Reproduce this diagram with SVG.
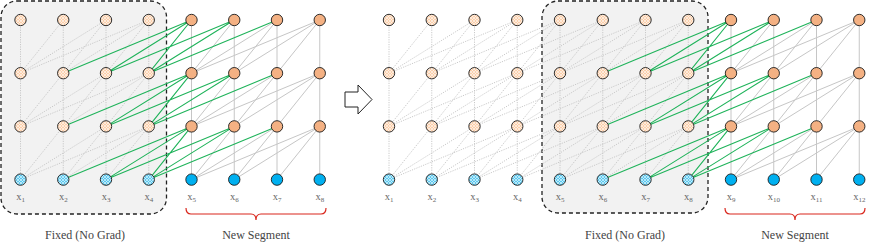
<svg xmlns="http://www.w3.org/2000/svg" xmlns:xlink="http://www.w3.org/1999/xlink" width="872" height="247" viewBox="0 0 872 247">
<style>
.box{fill:#f2f2f2;stroke:#222;stroke-width:1.3;stroke-dasharray:4 3}
.dot{fill:none;stroke:#c4c4c4;stroke-width:0.9;stroke-dasharray:1.2 1.2}
.sol{fill:none;stroke:#c6c6c6;stroke-width:1}
.grn{fill:none;stroke:#1fb35a;stroke-width:1.1}
.fh{fill:url(#hp);stroke:#1a1a1a;stroke-width:0.9}
.fi{fill:url(#ip);stroke:#1a1a1a;stroke-width:0.9}
.nh{fill:#f4b183;stroke:#1a1a1a;stroke-width:0.9}
.ni{fill:#00b0f0;stroke:#1a1a1a;stroke-width:0.9}
.lab{font-family:"Liberation Serif","DejaVu Serif",serif;font-size:10.5px;fill:#666;text-anchor:middle}
.sub{font-size:7px}
.cap{font-family:"Liberation Serif","DejaVu Serif",serif;font-size:12px;fill:#444;text-anchor:middle}
.brace{fill:none;stroke:#d9261c;stroke-width:1.2}
</style>
<defs>
<pattern id="hp" width="3" height="3" patternUnits="userSpaceOnUse"><rect width="3" height="3" fill="#fbcfab"/><path d="M0 0L3 3M3 0L0 3" stroke="#fff" stroke-width="0.7" opacity="0.8"/></pattern>
<pattern id="ip" width="3" height="3" patternUnits="userSpaceOnUse"><rect width="3" height="3" fill="#5ac8ef"/><path d="M0 0L3 3M3 0L0 3" stroke="#fff" stroke-width="0.7" opacity="0.8"/></pattern>
<path id="tri" d="M20.5 20V73.2M63.25 20V73.2M63.25 20L20.5 73.2M106 20V73.2M106 20L63.25 73.2M106 20L20.5 73.2M148.75 20V73.2M148.75 20L106 73.2M148.75 20L63.25 73.2M148.75 20L20.5 73.2"/>
<path id="cross" d="M191.5 20L148.75 73.2M191.5 20L106 73.2M191.5 20L63.25 73.2M234.25 20L148.75 73.2M234.25 20L106 73.2M277 20L148.75 73.2"/>
<path id="newg" d="M191.5 20V73.2M234.25 20V73.2M234.25 20L191.5 73.2M277 20V73.2M277 20L234.25 73.2M277 20L191.5 73.2M319.75 20V73.2M319.75 20L277 73.2M319.75 20L234.25 73.2M319.75 20L191.5 73.2"/>
</defs>
<rect width="872" height="247" fill="#fff"/>
<rect class="box" x="1" y="1" width="165.5" height="213" rx="16"/>
<rect class="box" x="542" y="1" width="166" height="212" rx="16"/>
<g id="connectors">
<use xlink:href="#tri" class="dot"/>
<use xlink:href="#tri" class="dot" transform="translate(0,53.2)"/>
<use xlink:href="#tri" class="dot" transform="translate(0,106.4)"/>
<use xlink:href="#newg" class="sol"/>
<use xlink:href="#newg" class="sol" transform="translate(0,53.2)"/>
<use xlink:href="#newg" class="sol" transform="translate(0,106.4)"/>
<use xlink:href="#cross" class="grn"/>
<use xlink:href="#cross" class="grn" transform="translate(0,53.2)"/>
<use xlink:href="#cross" class="grn" transform="translate(0,106.4)"/>
<use xlink:href="#tri" class="dot" transform="translate(368.5,0)"/>
<use xlink:href="#tri" class="dot" transform="translate(368.5,53.2)"/>
<use xlink:href="#tri" class="dot" transform="translate(368.5,106.4)"/>
<use xlink:href="#cross" class="dot" transform="translate(368.5,0)"/>
<use xlink:href="#cross" class="dot" transform="translate(368.5,53.2)"/>
<use xlink:href="#cross" class="dot" transform="translate(368.5,106.4)"/>
<use xlink:href="#tri" class="dot" transform="translate(539.5,0)"/>
<use xlink:href="#tri" class="dot" transform="translate(539.5,53.2)"/>
<use xlink:href="#tri" class="dot" transform="translate(539.5,106.4)"/>
<use xlink:href="#newg" class="sol" transform="translate(539.5,0)"/>
<use xlink:href="#newg" class="sol" transform="translate(539.5,53.2)"/>
<use xlink:href="#newg" class="sol" transform="translate(539.5,106.4)"/>
<use xlink:href="#cross" class="grn" transform="translate(539.5,0)"/>
<use xlink:href="#cross" class="grn" transform="translate(539.5,53.2)"/>
<use xlink:href="#cross" class="grn" transform="translate(539.5,106.4)"/>
</g>
<g id="left-nodes">
<g id="L_r0_c1"><circle class="fh" cx="20.5" cy="20" r="5.7"/></g>
<g id="L_r0_c2"><circle class="fh" cx="63.25" cy="20" r="5.7"/></g>
<g id="L_r0_c3"><circle class="fh" cx="106" cy="20" r="5.7"/></g>
<g id="L_r0_c4"><circle class="fh" cx="148.75" cy="20" r="5.7"/></g>
<g id="L_r0_c5"><circle class="nh" cx="191.5" cy="20" r="5.7"/></g>
<g id="L_r0_c6"><circle class="nh" cx="234.25" cy="20" r="5.7"/></g>
<g id="L_r0_c7"><circle class="nh" cx="277" cy="20" r="5.7"/></g>
<g id="L_r0_c8"><circle class="nh" cx="319.75" cy="20" r="5.7"/></g>
<g id="L_r1_c1"><circle class="fh" cx="20.5" cy="73.2" r="5.7"/></g>
<g id="L_r1_c2"><circle class="fh" cx="63.25" cy="73.2" r="5.7"/></g>
<g id="L_r1_c3"><circle class="fh" cx="106" cy="73.2" r="5.7"/></g>
<g id="L_r1_c4"><circle class="fh" cx="148.75" cy="73.2" r="5.7"/></g>
<g id="L_r1_c5"><circle class="nh" cx="191.5" cy="73.2" r="5.7"/></g>
<g id="L_r1_c6"><circle class="nh" cx="234.25" cy="73.2" r="5.7"/></g>
<g id="L_r1_c7"><circle class="nh" cx="277" cy="73.2" r="5.7"/></g>
<g id="L_r1_c8"><circle class="nh" cx="319.75" cy="73.2" r="5.7"/></g>
<g id="L_r2_c1"><circle class="fh" cx="20.5" cy="126.4" r="5.7"/></g>
<g id="L_r2_c2"><circle class="fh" cx="63.25" cy="126.4" r="5.7"/></g>
<g id="L_r2_c3"><circle class="fh" cx="106" cy="126.4" r="5.7"/></g>
<g id="L_r2_c4"><circle class="fh" cx="148.75" cy="126.4" r="5.7"/></g>
<g id="L_r2_c5"><circle class="nh" cx="191.5" cy="126.4" r="5.7"/></g>
<g id="L_r2_c6"><circle class="nh" cx="234.25" cy="126.4" r="5.7"/></g>
<g id="L_r2_c7"><circle class="nh" cx="277" cy="126.4" r="5.7"/></g>
<g id="L_r2_c8"><circle class="nh" cx="319.75" cy="126.4" r="5.7"/></g>
<g id="L_x1"><circle class="fi" cx="20.5" cy="179.6" r="5.7"/><text class="lab" x="20.5" y="200">x<tspan class="sub" dy="2">1</tspan></text></g>
<g id="L_x2"><circle class="fi" cx="63.25" cy="179.6" r="5.7"/><text class="lab" x="63.25" y="200">x<tspan class="sub" dy="2">2</tspan></text></g>
<g id="L_x3"><circle class="fi" cx="106" cy="179.6" r="5.7"/><text class="lab" x="106" y="200">x<tspan class="sub" dy="2">3</tspan></text></g>
<g id="L_x4"><circle class="fi" cx="148.75" cy="179.6" r="5.7"/><text class="lab" x="148.75" y="200">x<tspan class="sub" dy="2">4</tspan></text></g>
<g id="L_x5"><circle class="ni" cx="191.5" cy="179.6" r="5.7"/><text class="lab" x="191.5" y="200">x<tspan class="sub" dy="2">5</tspan></text></g>
<g id="L_x6"><circle class="ni" cx="234.25" cy="179.6" r="5.7"/><text class="lab" x="234.25" y="200">x<tspan class="sub" dy="2">6</tspan></text></g>
<g id="L_x7"><circle class="ni" cx="277" cy="179.6" r="5.7"/><text class="lab" x="277" y="200">x<tspan class="sub" dy="2">7</tspan></text></g>
<g id="L_x8"><circle class="ni" cx="319.75" cy="179.6" r="5.7"/><text class="lab" x="319.75" y="200">x<tspan class="sub" dy="2">8</tspan></text></g>
</g>
<g id="right-nodes">
<g id="R_r0_c1"><circle class="fh" cx="389" cy="20" r="5.7"/></g>
<g id="R_r0_c2"><circle class="fh" cx="431.75" cy="20" r="5.7"/></g>
<g id="R_r0_c3"><circle class="fh" cx="474.5" cy="20" r="5.7"/></g>
<g id="R_r0_c4"><circle class="fh" cx="517.25" cy="20" r="5.7"/></g>
<g id="R_r0_c5"><circle class="fh" cx="560" cy="20" r="5.7"/></g>
<g id="R_r0_c6"><circle class="fh" cx="602.75" cy="20" r="5.7"/></g>
<g id="R_r0_c7"><circle class="fh" cx="645.5" cy="20" r="5.7"/></g>
<g id="R_r0_c8"><circle class="fh" cx="688.25" cy="20" r="5.7"/></g>
<g id="R_r0_c9"><circle class="nh" cx="731" cy="20" r="5.7"/></g>
<g id="R_r0_c10"><circle class="nh" cx="773.75" cy="20" r="5.7"/></g>
<g id="R_r0_c11"><circle class="nh" cx="816.5" cy="20" r="5.7"/></g>
<g id="R_r0_c12"><circle class="nh" cx="859.25" cy="20" r="5.7"/></g>
<g id="R_r1_c1"><circle class="fh" cx="389" cy="73.2" r="5.7"/></g>
<g id="R_r1_c2"><circle class="fh" cx="431.75" cy="73.2" r="5.7"/></g>
<g id="R_r1_c3"><circle class="fh" cx="474.5" cy="73.2" r="5.7"/></g>
<g id="R_r1_c4"><circle class="fh" cx="517.25" cy="73.2" r="5.7"/></g>
<g id="R_r1_c5"><circle class="fh" cx="560" cy="73.2" r="5.7"/></g>
<g id="R_r1_c6"><circle class="fh" cx="602.75" cy="73.2" r="5.7"/></g>
<g id="R_r1_c7"><circle class="fh" cx="645.5" cy="73.2" r="5.7"/></g>
<g id="R_r1_c8"><circle class="fh" cx="688.25" cy="73.2" r="5.7"/></g>
<g id="R_r1_c9"><circle class="nh" cx="731" cy="73.2" r="5.7"/></g>
<g id="R_r1_c10"><circle class="nh" cx="773.75" cy="73.2" r="5.7"/></g>
<g id="R_r1_c11"><circle class="nh" cx="816.5" cy="73.2" r="5.7"/></g>
<g id="R_r1_c12"><circle class="nh" cx="859.25" cy="73.2" r="5.7"/></g>
<g id="R_r2_c1"><circle class="fh" cx="389" cy="126.4" r="5.7"/></g>
<g id="R_r2_c2"><circle class="fh" cx="431.75" cy="126.4" r="5.7"/></g>
<g id="R_r2_c3"><circle class="fh" cx="474.5" cy="126.4" r="5.7"/></g>
<g id="R_r2_c4"><circle class="fh" cx="517.25" cy="126.4" r="5.7"/></g>
<g id="R_r2_c5"><circle class="fh" cx="560" cy="126.4" r="5.7"/></g>
<g id="R_r2_c6"><circle class="fh" cx="602.75" cy="126.4" r="5.7"/></g>
<g id="R_r2_c7"><circle class="fh" cx="645.5" cy="126.4" r="5.7"/></g>
<g id="R_r2_c8"><circle class="fh" cx="688.25" cy="126.4" r="5.7"/></g>
<g id="R_r2_c9"><circle class="nh" cx="731" cy="126.4" r="5.7"/></g>
<g id="R_r2_c10"><circle class="nh" cx="773.75" cy="126.4" r="5.7"/></g>
<g id="R_r2_c11"><circle class="nh" cx="816.5" cy="126.4" r="5.7"/></g>
<g id="R_r2_c12"><circle class="nh" cx="859.25" cy="126.4" r="5.7"/></g>
<g id="R_x1"><circle class="fi" cx="389" cy="179.6" r="5.7"/><text class="lab" x="389" y="200">x<tspan class="sub" dy="2">1</tspan></text></g>
<g id="R_x2"><circle class="fi" cx="431.75" cy="179.6" r="5.7"/><text class="lab" x="431.75" y="200">x<tspan class="sub" dy="2">2</tspan></text></g>
<g id="R_x3"><circle class="fi" cx="474.5" cy="179.6" r="5.7"/><text class="lab" x="474.5" y="200">x<tspan class="sub" dy="2">3</tspan></text></g>
<g id="R_x4"><circle class="fi" cx="517.25" cy="179.6" r="5.7"/><text class="lab" x="517.25" y="200">x<tspan class="sub" dy="2">4</tspan></text></g>
<g id="R_x5"><circle class="fi" cx="560" cy="179.6" r="5.7"/><text class="lab" x="560" y="200">x<tspan class="sub" dy="2">5</tspan></text></g>
<g id="R_x6"><circle class="fi" cx="602.75" cy="179.6" r="5.7"/><text class="lab" x="602.75" y="200">x<tspan class="sub" dy="2">6</tspan></text></g>
<g id="R_x7"><circle class="fi" cx="645.5" cy="179.6" r="5.7"/><text class="lab" x="645.5" y="200">x<tspan class="sub" dy="2">7</tspan></text></g>
<g id="R_x8"><circle class="fi" cx="688.25" cy="179.6" r="5.7"/><text class="lab" x="688.25" y="200">x<tspan class="sub" dy="2">8</tspan></text></g>
<g id="R_x9"><circle class="ni" cx="731" cy="179.6" r="5.7"/><text class="lab" x="731" y="200">x<tspan class="sub" dy="2">9</tspan></text></g>
<g id="R_x10"><circle class="ni" cx="773.75" cy="179.6" r="5.7"/><text class="lab" x="773.75" y="200">x<tspan class="sub" dy="2">10</tspan></text></g>
<g id="R_x11"><circle class="ni" cx="816.5" cy="179.6" r="5.7"/><text class="lab" x="816.5" y="200">x<tspan class="sub" dy="2">11</tspan></text></g>
<g id="R_x12"><circle class="ni" cx="859.25" cy="179.6" r="5.7"/><text class="lab" x="859.25" y="200">x<tspan class="sub" dy="2">12</tspan></text></g>
</g>
<g id="arrow"><polygon points="345,92 358,92 358,85 372,99.5 358,114 358,107 345,107" fill="#fff" stroke="#222" stroke-width="1"/></g>
<g id="captions">
<path class="brace" d="M186 208Q186 214 191 214L251 214Q256 214 256 220Q256 214 261 214L321 214Q326 214 326 208"/>
<path class="brace" d="M725 208Q725 214 730 214L790 214Q795 214 795 220Q795 214 800 214L860 214Q865 214 865 208"/>
<text class="cap" x="85" y="239">Fixed (No Grad)</text>
<text class="cap" x="256" y="239">New Segment</text>
<text class="cap" x="625" y="239">Fixed (No Grad)</text>
<text class="cap" x="795" y="239">New Segment</text>
</g>
</svg>
